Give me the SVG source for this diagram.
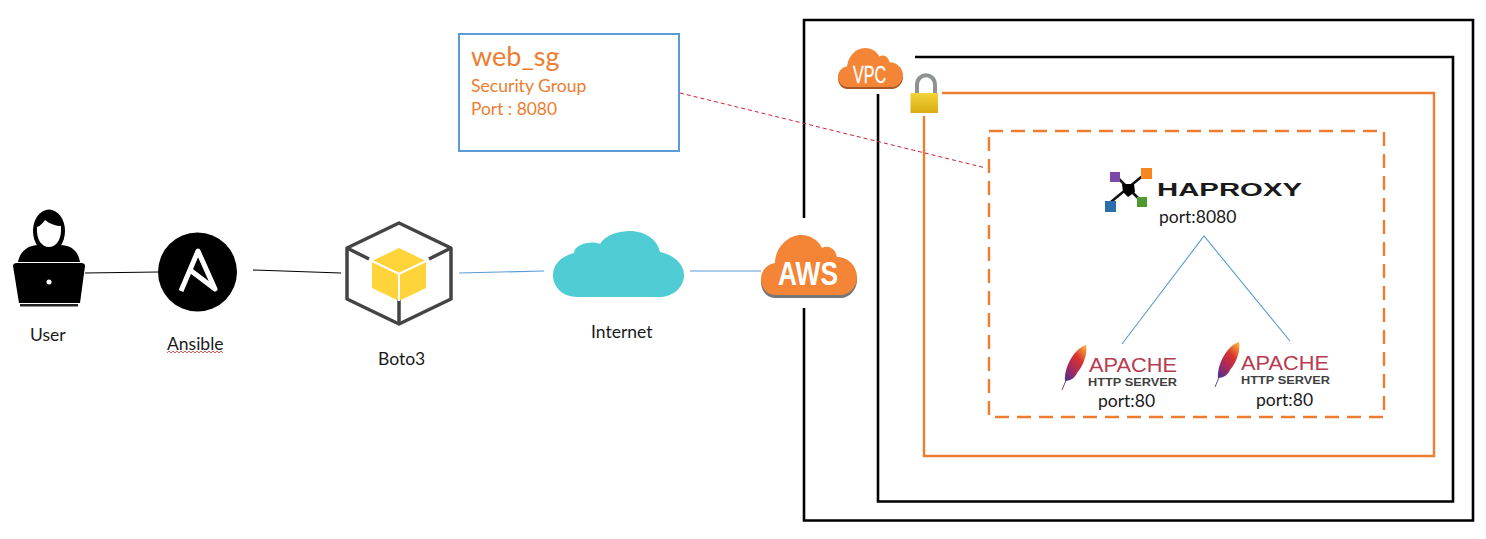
<svg xmlns="http://www.w3.org/2000/svg" width="1486" height="539" viewBox="0 0 1486 539">
<style>
.lbl{font-family:"Lato","Noto Sans",sans-serif;font-size:17.500px;fill:#1a1a1a}
.sg{font-family:"Lato","Noto Sans",sans-serif;fill:#ed7d31}
.k{fill:none;stroke:#000;stroke-width:2.6}
.o{fill:none;stroke:#ed7d31;stroke-width:2.4}
.bl{fill:none;stroke:#5b9bd5;stroke-width:1.1}
.ap{font-family:"Liberation Sans",sans-serif;font-size:21px;fill:#b73c50}
.ht{font-family:"Liberation Sans",sans-serif;font-weight:bold;font-size:10px;fill:#3f3f3f}
</style>
<defs>
<linearGradient id="fg" x1="0.8" y1="0" x2="0.2" y2="1">
<stop offset="0" stop-color="#f6a13a"/><stop offset="0.35" stop-color="#d8322f"/><stop offset="0.7" stop-color="#a82a5c"/><stop offset="1" stop-color="#5a3088"/>
</linearGradient>
<linearGradient id="lk" x1="0" y1="0" x2="0" y2="1"><stop offset="0" stop-color="#f3d53a"/><stop offset="1" stop-color="#d9ab12"/></linearGradient>
<path id="cl" d="M14,60C5,60 0,52 0,44C0,35 7,29 14,28C14,14 26,0 40,0C50,0 58,6 61,13C66,10 74,12 76,22C88,22 96,32 96,42C96,52 88,60 80,60Z"/>
<g id="fe">
<path d="M0,45L7,28" stroke="#6b4a8a" stroke-width="1" fill="none"/>
<path d="M3,36C2,22 12,4 24,0C26,9 21,21 15,28C13,33 8,36 3,36Z" fill="url(#fg)"/>
</g>
</defs>

<g id="boundaries">
<path class="k" d="M804,218V20H1473V520.500H804V308"/>
<path class="k" d="M915,57H1453V501.500H878V94"/>
<path class="o" d="M942,93H1434V456H924V116"/>
<rect x="989" y="131" width="395" height="286" class="o" stroke-dasharray="14 8"/>
</g>

<g id="connectors">
<path d="M85,273L158,272" fill="none" stroke="#000" stroke-width="1.100"/>
<path d="M253,270L341,273" fill="none" stroke="#000" stroke-width="1.100"/>
<path class="bl" d="M459,273L544,271"/>
<path class="bl" d="M690,271L761,271"/>
<path class="bl" d="M1122,344L1204,236L1290,341"/>
<path d="M680,93L986,168" fill="none" stroke="#d0213a" stroke-width="1" stroke-dasharray="4 3"/>
</g>

<g id="web_sg">
<rect x="459" y="34" width="220" height="117" fill="#fff" stroke="#5b9bd5" stroke-width="2"/>
<text class="sg" x="471" y="66" font-size="27">web_sg</text>
<text class="sg" x="471" y="92" font-size="17.600">Security Group</text>
<text class="sg" x="471" y="115" font-size="17.400">Port : 8080</text>
</g>

<g id="user">
<path d="M18,262C20,250 30,245 38,245H60C70,245 78,250 80,262Z" fill="#000"/>
<ellipse cx="49" cy="231" rx="16" ry="21.500" fill="#000"/>
<path d="M37,227C40,226 43,223 45,220C50,224 56,226 61,226C62,240 56,247 49,247C42,247 36,240 37,227Z" fill="#fff"/>
<path d="M13,266Q13,263 17,263H81Q85,263 85,266L80,303H19Z" fill="#000"/>
<rect x="20" y="304" width="58" height="2.500" fill="#222"/>
<circle cx="49" cy="282" r="2.500" fill="#fff"/>
<text class="lbl" x="30" y="341">User</text>
</g>

<g id="ansible">
<circle cx="197.500" cy="272" r="39.500" fill="#000"/>
<path d="M181,291L198,251L215,289L190,270" fill="none" stroke="#fff" stroke-width="5" stroke-linejoin="round"/>
<text class="lbl" x="167" y="350">Ansible</text>
<path d="M167,353l2,-2l2,2l2,-2l2,2l2,-2l2,2l2,-2l2,2l2,-2l2,2l2,-2l2,2l2,-2l2,2l2,-2l2,2l2,-2l2,2l2,-2l2,2l2,-2l2,2l2,-2l2,2l2,-2l2,2l2,-2l2,2" fill="none" stroke="#d8322f" stroke-width="0.800"/>
</g>

<g id="boto3">
<path d="M399,223L451,248V299L399,324L347,299V248Z" fill="#fff" stroke="#444" stroke-width="3.500" stroke-linejoin="round"/>
<path d="M347,248L369,259M451,248L429,259M399,324V300" fill="none" stroke="#444" stroke-width="3.500"/>
<path d="M399,248L426,261V288L399,301L372,288V261Z" fill="#ffd43b"/>
<path d="M372,261L399,274L426,261M399,274V301" fill="none" stroke="#fff" stroke-width="2"/>
<text class="lbl" x="378" y="365">Boto3</text>
</g>

<g id="internet">
<path d="M578,297C560,297 553,285 553,275C553,264 562,256 574,253C574,245 590,240 600,244C606,234 620,231 630,231C645,231 658,240 660,252C675,255 684,265 684,275C684,288 672,297 660,297Z" fill="#50ccd4"/>
<text class="lbl" x="591" y="338">Internet</text>
</g>

<g id="aws">
<use href="#cl" transform="translate(761,238)" fill="#77777a"/>
<use href="#cl" transform="translate(761,235)" fill="#f58536"/>
<text x="778" y="285" font-family="Liberation Sans,sans-serif" font-weight="bold" font-size="33" fill="#fff" textLength="60" lengthAdjust="spacingAndGlyphs">AWS</text>
</g>

<g id="vpc">
<use href="#cl" transform="translate(838,49) scale(0.677,0.667)" fill="#a85a25"/>
<use href="#cl" transform="translate(838,48) scale(0.677,0.65)" fill="#f58536"/>
<text x="853" y="83" font-family="Liberation Sans,sans-serif" font-size="24" fill="#fff" stroke="#fff" stroke-width="0.300" textLength="33" lengthAdjust="spacingAndGlyphs">VPC</text>
</g>

<g id="lock">
<path d="M917,94V85C917,72 935,72 935,85V94" fill="none" stroke="#8f9295" stroke-width="4"/>
<rect x="910.500" y="93" width="27.500" height="20" fill="url(#lk)"/>
</g>

<g id="haproxy">
<path d="M1115,175L1142,202M1146,173L1106,206" stroke="#111" stroke-width="2.500"/>
<path d="M1122,184H1134L1135,192L1128,197L1123,192Z" fill="#000"/>
<rect x="1110" y="172" width="10" height="10" fill="#7b4aa8"/>
<rect x="1141" y="168" width="11" height="11" fill="#f5851f"/>
<rect x="1105" y="201" width="11" height="11" fill="#2b6ea8"/>
<rect x="1137" y="197" width="10" height="10" fill="#4f9a2e"/>
<text x="1157" y="196" font-family="Liberation Sans,sans-serif" font-weight="bold" font-size="18" fill="#1a1a1a" textLength="145" lengthAdjust="spacingAndGlyphs">HAPROXY</text>
<text class="lbl" x="1159" y="223">port:8080</text>
</g>

<g id="apache1">
<use href="#fe" transform="translate(1062,345)"/>
<text class="ap" x="1089" y="372" textLength="88" lengthAdjust="spacingAndGlyphs">APACHE</text>
<text class="ht" x="1088" y="386" textLength="89" lengthAdjust="spacingAndGlyphs">HTTP SERVER</text>
<text class="lbl" x="1098" y="407">port:80</text>
</g>

<g id="apache2">
<use href="#fe" transform="translate(1215,342)"/>
<text class="ap" x="1241" y="369.500" textLength="88" lengthAdjust="spacingAndGlyphs">APACHE</text>
<text class="ht" x="1241" y="383.500" textLength="89" lengthAdjust="spacingAndGlyphs">HTTP SERVER</text>
<text class="lbl" x="1256" y="406">port:80</text>
</g>
</svg>
